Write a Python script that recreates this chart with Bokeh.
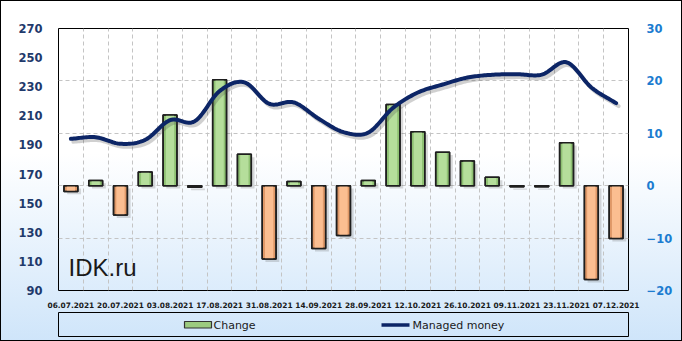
import numpy as np
from bokeh.plotting import figure
from bokeh.models import Range1d, LinearAxis, FixedTicker, Label, ColumnDataSource
from bokeh.layouts import column
from bokeh.core.properties import value
from bokeh.embed import file_html
from bokeh.resources import INLINE

# ---------------- data ----------------
dates = ["06.07.2021", "13.07.2021", "20.07.2021", "27.07.2021", "03.08.2021",
         "10.08.2021", "17.08.2021", "24.08.2021", "31.08.2021", "07.09.2021",
         "14.09.2021", "21.09.2021", "28.09.2021", "05.10.2021", "12.10.2021",
         "19.10.2021", "26.10.2021", "02.11.2021", "09.11.2021", "16.11.2021",
         "23.11.2021", "30.11.2021", "07.12.2021"]
managed_money = [194.2, 195.3, 190.8, 193.5, 207.0, 206.3, 227.0, 233.0, 218.3,
                 219.2, 208.0, 198.8, 198.5, 215.5, 226.0, 231.5, 236.3, 238.2,
                 238.6, 238.3, 246.8, 229.5, 218.7]
change = [-1.1, 1.0, -5.6, 2.6, 13.5, -0.3, 20.2, 6.0, -14.0, 0.8, -12.0, -9.5,
          1.0, 15.5, 10.3, 6.4, 4.7, 1.6, -0.2, -0.2, 8.2, -17.9, -10.1]
left_ticks = [90, 110, 130, 150, 170, 190, 210, 230, 250, 270]
right_ticks = [-20, -10, 0, 10, 20, 30]
title_text = "OI, managed money, Wheat (th. contr)"
series_names = ["Change", "Managed money"]

FONT = "DejaVu Sans"
n = len(dates)
xs = np.arange(n, dtype=float)
ch = np.array(change)
mm = np.array(managed_money)

# ---------------- main figure ----------------
p = figure(width=682, height=310, x_range=Range1d(-0.5, n - 0.5),
           y_range=Range1d(-20, 30), y_axis_location="right",
           output_backend="svg", toolbar_location=None, title=None,
           min_border_left=58, min_border_right=54, min_border_top=28,
           min_border_bottom=20)
p.extra_y_ranges = {"mm": Range1d(90, 270)}
p.background_fill_color = None
p.border_fill_color = None
p.outline_line_color = "#000000"
p.outline_line_width = 1

# grids
p.ygrid.ticker = FixedTicker(ticks=right_ticks)
p.xgrid.ticker = FixedTicker(ticks=list(xs[:-1] + 0.5))
for g in (p.xgrid, p.ygrid):
    g.grid_line_color = "#c4c4c4"
    g.grid_line_dash = "4 3"
    g.grid_line_width = 1

# right axis (changes)
ra = p.yaxis[0]
ra.ticker = FixedTicker(ticks=right_ticks)
ra.major_label_text_font = FONT
ra.major_label_text_font_style = "bold"
ra.major_label_text_font_size = "11.5px"
ra.major_label_text_color = "#1c7cd0"
ra.major_label_standoff = 12
ra.axis_line_color = None
ra.major_tick_line_color = None
ra.minor_tick_line_color = None

# left axis (managed money)
la = LinearAxis(y_range_name="mm", ticker=FixedTicker(ticks=left_ticks))
la.major_label_text_font = FONT
la.major_label_text_font_style = "bold"
la.major_label_text_font_size = "11.5px"
la.major_label_text_color = "#1f3a6c"
la.major_label_standoff = 10
la.axis_line_color = None
la.major_tick_line_color = None
la.minor_tick_line_color = None
p.add_layout(la, "left")

# x axis
xa = p.xaxis[0]
xa.ticker = FixedTicker(ticks=list(xs[::2]))
overrides = {float(i): dates[i] for i in range(0, n, 2)}
overrides.update({i: dates[i] for i in range(0, n, 2)})
xa.major_label_overrides = overrides
xa.major_label_text_font = FONT
xa.major_label_text_font_style = "bold"
xa.major_label_text_font_size = "7.4px"
xa.major_label_text_color = "#1a1a1a"
xa.major_label_standoff = 5
xa.axis_line_color = None
xa.major_tick_line_color = None
xa.minor_tick_line_color = None

# bars
w = 0.56
top = np.maximum(ch, 0)
bot = np.minimum(ch, 0)
pos = ch >= 0
base_col = np.where(pos, "#8fc173", "#df9868")
inner_col = np.where(pos, "#b5de9b", "#fbbe91")

# shadows
p.quad(left=xs - w / 2 + 0.13, right=xs + w / 2 + 0.13, top=top - 0.55,
       bottom=bot - 0.55, fill_color="#555555", fill_alpha=0.22, line_color=None)
bars = ColumnDataSource(dict(l=xs - w / 2, r=xs + w / 2, t=top, b=bot,
                             c=base_col, ic=inner_col,
                             il=xs - w * 0.3, ir=xs + w * 0.3))
p.quad(left="l", right="r", top="t", bottom="b", fill_color="c",
       line_color="#1e1e1e", line_width=1.5, source=bars)
p.quad(left="il", right="ir", top="t", bottom="b", fill_color="ic",
       line_color=None, source=bars)
p.quad(left="l", right="r", top="t", bottom="b", fill_color=None,
       line_color="#1e1e1e", line_width=1.5, source=bars)


# smooth line (Catmull-Rom through the data points, for drawing only)
def smooth(x, y, steps=16):
    px = np.concatenate([[2 * x[0] - x[1]], x, [2 * x[-1] - x[-2]]])
    py = np.concatenate([[2 * y[0] - y[1]], y, [2 * y[-1] - y[-2]]])
    ox, oy = [], []
    t = np.linspace(0, 1, steps, endpoint=False)
    for i in range(1, len(px) - 2):
        for arr, out in ((px, ox), (py, oy)):
            p0, p1, p2, p3 = arr[i - 1], arr[i], arr[i + 1], arr[i + 2]
            out.extend(0.5 * ((2 * p1) + (-p0 + p2) * t +
                              (2 * p0 - 5 * p1 + 4 * p2 - p3) * t ** 2 +
                              (-p0 + 3 * p1 - 3 * p2 + p3) * t ** 3))
    ox.append(x[-1])
    oy.append(y[-1])
    return np.array(ox), np.array(oy)


sx, sy = smooth(xs, mm)
p.line(sx + 0.1, sy - 2.0, y_range_name="mm", line_width=4,
       line_color="#444444", line_alpha=0.25, line_cap="round")
p.line(sx, sy, y_range_name="mm", line_width=4, line_color="#0c2566",
       line_cap="round", line_join="round")

# texts
p.add_layout(Label(x=5, y=276, x_units="screen", y_units="screen",
                   text=title_text, text_font=FONT, text_font_style="bold",
                   text_font_size="11px", text_color="#1a1a1a",
                   text_baseline="middle"))
p.add_layout(Label(x=10, y=23, x_units="screen", y_units="screen",
                   text="IDK.ru", text_font="Liberation Sans",
                   text_font_size="24px", text_color="#1a1a1a",
                   text_baseline="middle"))

# ---------------- legend strip ----------------
leg = figure(width=682, height=31, x_range=Range1d(0, 570), y_range=Range1d(0, 24),
             output_backend="svg", toolbar_location=None, title=None,
             x_axis_location=None, y_axis_location=None,
             min_border_left=58, min_border_right=54, min_border_top=2,
             min_border_bottom=5)
leg.background_fill_color = None
leg.border_fill_color = None
leg.outline_line_color = "#000000"
leg.outline_line_width = 1
for g in leg.grid:
    g.visible = False

leg.quad(left=[126], right=[153], bottom=[8.5], top=[15], fill_color="#9ccb80",
         line_color="#333333", line_width=1.2)
leg.text(x=[155], y=[11.5], text=[series_names[0]], text_baseline="middle",
         text_font=value(FONT), text_font_size="11px", text_color="#1a1a1a")
leg.line(x=[323, 351], y=[11.5, 11.5], line_width=3.5, line_color="#0c2566")
leg.text(x=[354], y=[11.5], text=[series_names[1]], text_baseline="middle",
         text_font=value(FONT), text_font_size="11px", text_color="#1a1a1a")

layout = column(p, leg, styles={
    "background": "linear-gradient(to bottom, #ffffff 0%, #ffffff 45%, #cfe5fa 100%)",
    "box-shadow": "inset 0 0 0 1px #000000",
})

open("out.html", "w").write(file_html(layout, INLINE))
